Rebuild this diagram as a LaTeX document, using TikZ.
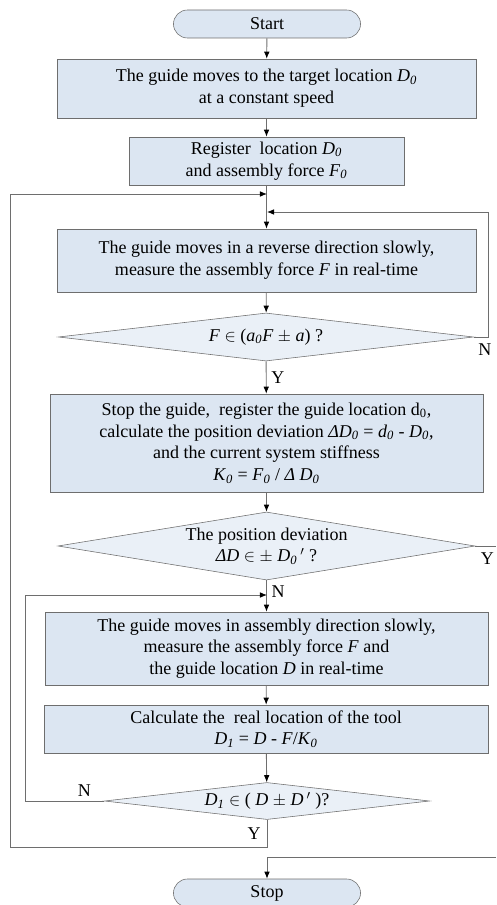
\documentclass[tikz,border=0pt]{standalone}
\usepackage{fontspec}
\setmainfont{Liberation Serif}
\usepackage{tikz}
\usetikzlibrary{shapes.geometric, shapes.misc, arrows, arrows.meta, positioning, calc}

\definecolor{boxfill}{RGB}{220,230,242}
\definecolor{linegray}{RGB}{110,110,110}
\newcommand{\isub}[2]{\textit{#1}\textsubscript{\textit{#2}}}

\begin{document}
\begin{tikzpicture}[
        x=0.025cm, y=-0.025cm,
        every node/.style={font=\fontsize{12.8}{15.5}\selectfont},
        terminal/.style={rounded rectangle, draw=linegray, fill=boxfill, minimum width=4.675cm, minimum height=0.7cm, inner sep=0pt},
        process/.style={rectangle, draw=linegray, fill=boxfill, align=center, inner sep=0pt},
        decision/.style={diamond, draw=linegray, fill=boxfill!60, align=center, inner sep=0pt},
        line/.style={draw=linegray, semithick},
        arrow/.style={-{Latex[black, length=5pt, width=4pt]}, draw=linegray, semithick},
        yn/.style={font=\fontsize{12.8}{14}\selectfont}
    ]
        \useasboundingbox (0,0) rectangle (496,905);

        % Start / Stop
        \node[terminal] (start) at (267,24) {Start};
        \node[terminal] (stop) at (267,893) {Stop};

        % Steps
        \node[process, minimum width=10.475cm, minimum height=1.475cm] (move) at (266.5,88.5) {
            The guide moves to the target location \isub{D}{0}\\
            at a constant speed};
        \node[process, minimum width=6.875cm, minimum height=1.2cm] (register) at (266.5,161) {
            Register\ \ location \isub{D}{0}\\
            and assembly force \isub{F}{0}};
        \node[process, minimum width=10.475cm, minimum height=1.575cm] (reverse) at (266.5,260.5) {
            The guide moves in a reverse direction slowly,\\
            measure the assembly force \textit{F} in real-time};
        \node[decision, minimum width=10.375cm, minimum height=1.2cm, aspect=8.6] (force) at (266,337) {
            \textit{F} $\in$ (\isub{a}{0}\textit{F} $\pm$ \textit{a}) ?};
        \node[process, minimum width=10.825cm, minimum height=2.45cm] (stopguide) at (266.5,443) {
            Stop the guide,\ \ register the guide location d\textsubscript{0},\\
            calculate the position deviation \isub{ΔD}{0} = \isub{d}{0} - \isub{D}{0},\\
            and the current system stiffness\\
            \isub{K}{0} = \isub{F}{0} / \textit{Δ} \isub{D}{0}};
        \node[decision, minimum width=10.425cm, minimum height=1.7cm, aspect=6.1] (deviation) at (266.5,546) {
            The position deviation\\
            \textit{ΔD} $\in$ $\pm$ \isub{D}{0}\,$'$ ?};
        \node[process, minimum width=11.075cm, minimum height=1.825cm] (forward) at (266.5,648.5) {
            The guide moves in assembly direction slowly,\\
            measure the assembly force \textit{F} and\\
            the guide location \textit{D} in real-time};
        \node[process, minimum width=11.1cm, minimum height=1.2cm] (calc) at (266,729) {
            Calculate the\ \ real location of the tool\\
            \isub{D}{1} = \textit{D} - \textit{F}/\isub{K}{0}};
        \node[decision, minimum width=8.125cm, minimum height=0.925cm, aspect=8.8] (real) at (267,801) {
            \isub{D}{1} $\in$ ( \textit{D} $\pm$ \textit{D}\,$'$ )?};

        % Junctions
        \coordinate (joinA) at (267,194);
        \coordinate (joinB) at (267,212);
        \coordinate (joinC) at (267,595);
        \coordinate (outerL) at (10,847);
        \coordinate (innerL) at (25,801);
        \coordinate (forceR) at (488,337);
        \coordinate (devR) at (496,546);
        \coordinate (stopR) at (496,857);

        % Arrows
        \draw[arrow] (start) -- (move);
        \draw[arrow] (move) -- (register);
        \draw[arrow] (register) -- (reverse);
        \draw[arrow] (reverse) -- (force);
        \draw[arrow] (force) -- node[right, yn] {Y} (stopguide);
        \draw[arrow] (stopguide) -- (deviation);
        \draw[arrow] (deviation) -- node[right, yn, pos=0.35] {N} (forward);
        \draw[arrow] (forward) -- (calc);
        \draw[arrow] (calc) -- (real);

        % Loops
        \draw[arrow] (force.east) -- (forceR) |- (joinB);
        \node[yn, below left=1pt and -6pt] (forceN) at (forceR) {N};
        \draw[line] (deviation.east) -- (devR);
        \node[yn, below left=1pt and -2pt] (devY) at (devR) {Y};
        \draw[arrow] (real.west) -- (innerL) |- (joinC);
        \node[yn, above left=0pt and 6pt] (realN) at (real.west) {N};
        \draw[arrow] (real.south) |- (outerL) |- (joinA);
        \node[yn, left=1pt] (realY) at ($(real.south)!0.5!(real.south |- outerL)$) {Y};
        \draw[arrow] (stopR) -| (stop.north);

    \end{tikzpicture}
\end{document}
